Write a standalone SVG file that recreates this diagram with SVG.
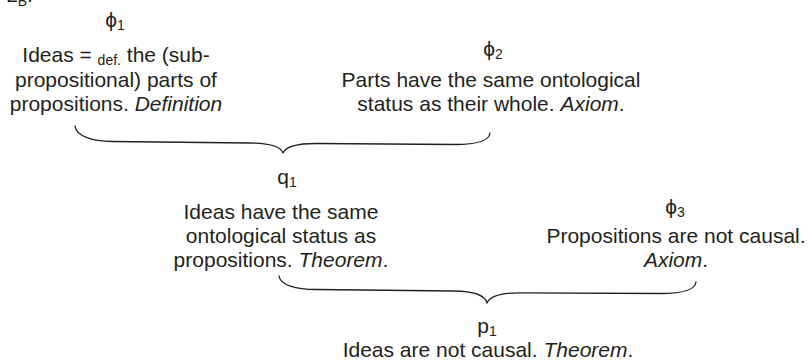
<svg xmlns="http://www.w3.org/2000/svg" width="809" height="362" viewBox="0 0 809 362">
<style>
text{font-family:"Liberation Sans",Arial,Helvetica,sans-serif;font-size:21px;fill:#231f20;text-anchor:middle}
.s{font-size:14px}
.i{font-style:italic}
.brace{fill:none;stroke:#231f20;stroke-width:1.3;stroke-linecap:round;stroke-linejoin:round}
</style>
<rect width="809" height="362" fill="#fff"/>
<g id="label">
<text x="6" y="2" style="text-anchor:start">L<tspan class="s" dy="4">B</tspan><tspan dy="-4">:</tspan></text>
</g>
<g id="connectors">
<path class="brace" d="M75,126 C76,136 92,141 112,141.5 L250,143 C268,143.2 281,146 283,153 C286,146 298,143.5 316,143.5 L455,144.5 C475,144.5 489,141 490,133"/>
<path class="brace" d="M279,276 C280,285 296,289.5 316,289.5 L454,291 C472,291.2 485,295 487,303 C490,296 502,292.8 520,292.8 L661,293.5 C681,293.5 695,290 696,282"/>
</g>
<g id="phi1">
<text x="115" y="27">ϕ<tspan class="s" dy="3">1</tspan></text>
<text x="116" y="62">Ideas = <tspan class="s" dy="3">def.</tspan><tspan dy="-3"> the (sub-</tspan></text>
<text x="116" y="87">propositional) parts of</text>
<text x="116" y="111">propositions. <tspan class="i">Definition</tspan></text>
</g>
<g id="phi2">
<text x="493" y="56">ϕ<tspan class="s" dy="3">2</tspan></text>
<text x="491" y="87">Parts have the same ontological</text>
<text x="491" y="111">status as their whole. <tspan class="i">Axiom</tspan>.</text>
</g>
<g id="q1">
<text x="287" y="184">q<tspan class="s" dy="3">1</tspan></text>
<text x="281" y="219">Ideas have the same</text>
<text x="281" y="243">ontological status as</text>
<text x="281" y="267">propositions. <tspan class="i">Theorem</tspan>.</text>
</g>
<g id="phi3">
<text x="675" y="214">ϕ<tspan class="s" dy="3">3</tspan></text>
<text x="676" y="243">Propositions are not causal.</text>
<text x="676" y="267"><tspan class="i">Axiom</tspan>.</text>
</g>
<g id="p1">
<text x="487" y="333">p<tspan class="s" dy="3">1</tspan></text>
<text x="488" y="357">Ideas are not causal. <tspan class="i">Theorem</tspan>.</text>
</g>
</svg>
